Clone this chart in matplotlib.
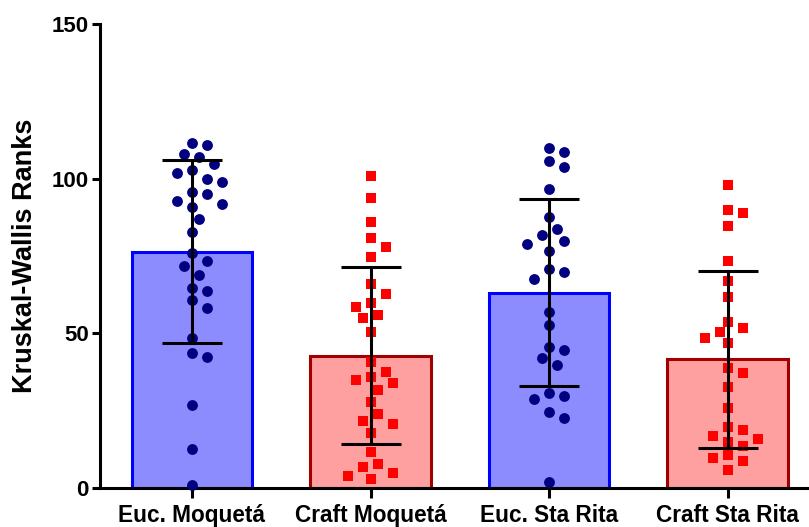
import numpy as np
import matplotlib
matplotlib.use("Agg")
import matplotlib.pyplot as plt

plt.rcParams['font.family'] = ['Liberation Sans', 'DejaVu Sans']

categories = ["Euc. Moquetá", "Craft Moquetá", "Euc. Sta Rita", "Craft Sta Rita"]

euc_moqueta = [111.6, 110.9, 107.9, 107.1, 104.7, 102.8, 101.7, 99.8, 98.9, 95.8,
               95.0, 92.9, 91.8, 90.7, 86.9, 82.8, 75.9, 73.3, 71.9, 68.8,
               64.8, 63.7, 60.7, 58.3, 48.6, 43.7, 42.3, 26.7, 12.7, 0.9]
craft_moqueta = [100.9, 93.9, 86.0, 80.8, 77.8, 74.7, 65.9, 62.7, 59.8, 58.5,
                 55.9, 55.0, 50.3, 40.7, 37.5, 35.9, 34.9, 33.9, 31.7, 27.8,
                 23.9, 21.8, 20.8, 17.7, 11.6, 7.9, 6.8, 4.8, 3.9, 2.9]
euc_sta_rita = [109.8, 108.7, 105.7, 103.9, 96.7, 87.7, 83.8, 81.7, 79.9, 78.8,
                76.7, 70.8, 69.7, 67.7, 56.8, 52.7, 45.7, 44.7, 42.1, 39.7,
                30.7, 29.7, 28.8, 24.7, 22.7, 1.8]
craft_sta_rita = [98.0, 89.9, 88.8, 84.7, 73.5, 66.8, 61.8, 53.8, 51.8, 50.3,
                  48.4, 46.8, 38.8, 37.3, 32.7, 25.8, 19.7, 18.8, 16.9, 15.9,
                  15.0, 13.7, 10.7, 9.7, 8.7, 5.7]

means = [76.4, 42.8, 63.2, 41.6]
sds = [29.6, 28.7, 30.3, 28.6]

groups = [euc_moqueta, craft_moqueta, euc_sta_rita, craft_sta_rita]
fills = ['#8C8CFF', '#FFA0A0', '#8C8CFF', '#FFA0A0']
edges = ['#0000FF', '#A00000', '#0000FF', '#A00000']
pt_colors = ['#000080', '#FF0000', '#000080', '#FF0000']
markers = ['o', 's', 'o', 's']

fig = plt.figure(figsize=(8.09, 5.27), dpi=100)
ax = fig.add_axes([100/809, 39/527, 709/809, 464/527])
x = np.arange(len(categories))
ax.set_xlim(-0.515, 3.455)
ax.set_ylim(0, 150)

ax.bar(x, means, width=0.675, color=fills, edgecolor=edges, linewidth=2.2, zorder=1)


def swarm_offsets(vals, step_px, diam_px):
    # simple beeswarm in pixel space
    ys = [ax.transData.transform((0, v))[1] for v in vals]
    placed = []
    offs = []
    cands = [0]
    for i in range(1, 12):
        cands += [i, -i]
    for yv in ys:
        k = 0
        for c in cands:
            if all(np.hypot(c * step_px - px, yv - py) >= diam_px for (px, py) in placed):
                k = c
                break
        placed.append((k * step_px, yv))
        offs.append(k * step_px)
    return offs

px_per_unit = ax.transData.transform((1, 0))[0] - ax.transData.transform((0, 0))[0]
for i, vals in enumerate(groups):
    is_sq = markers[i] == 's'
    offs = swarm_offsets(vals, 7.5, 13.0 if is_sq else 12.5)
    xs = [x[i] + o / px_per_unit for o in offs]
    ms = 7.3 if is_sq else 7.8
    ax.plot(xs, vals, linestyle='none', marker=markers[i], markersize=ms,
            color=pt_colors[i], markeredgewidth=0, zorder=3, clip_on=False)

ax.errorbar(x, means, yerr=sds, fmt='none', ecolor='black', elinewidth=2.2,
            capsize=21.5, capthick=2.2, zorder=4)

for s in ['top', 'right']:
    ax.spines[s].set_visible(False)
for s in ['left', 'bottom']:
    ax.spines[s].set_linewidth(2.2)
    ax.spines[s].set_color('black')

ax.set_yticks([0, 50, 100, 150])
ax.set_xticks(x)
ax.set_xticklabels(categories, fontsize=16.3, fontweight='bold')
ax.tick_params(axis='y', labelsize=16, width=2.2, length=6, pad=2)
ax.tick_params(axis='x', width=2.2, length=7, pad=4.5)
for lab in ax.get_yticklabels():
    lab.set_fontweight('bold')
ax.set_ylabel('Kruskal-Wallis Ranks', fontsize=19.5, fontweight='bold')
ax.yaxis.set_label_coords(-0.087, 0.5)

fig.savefig('out.png', dpi=100)
